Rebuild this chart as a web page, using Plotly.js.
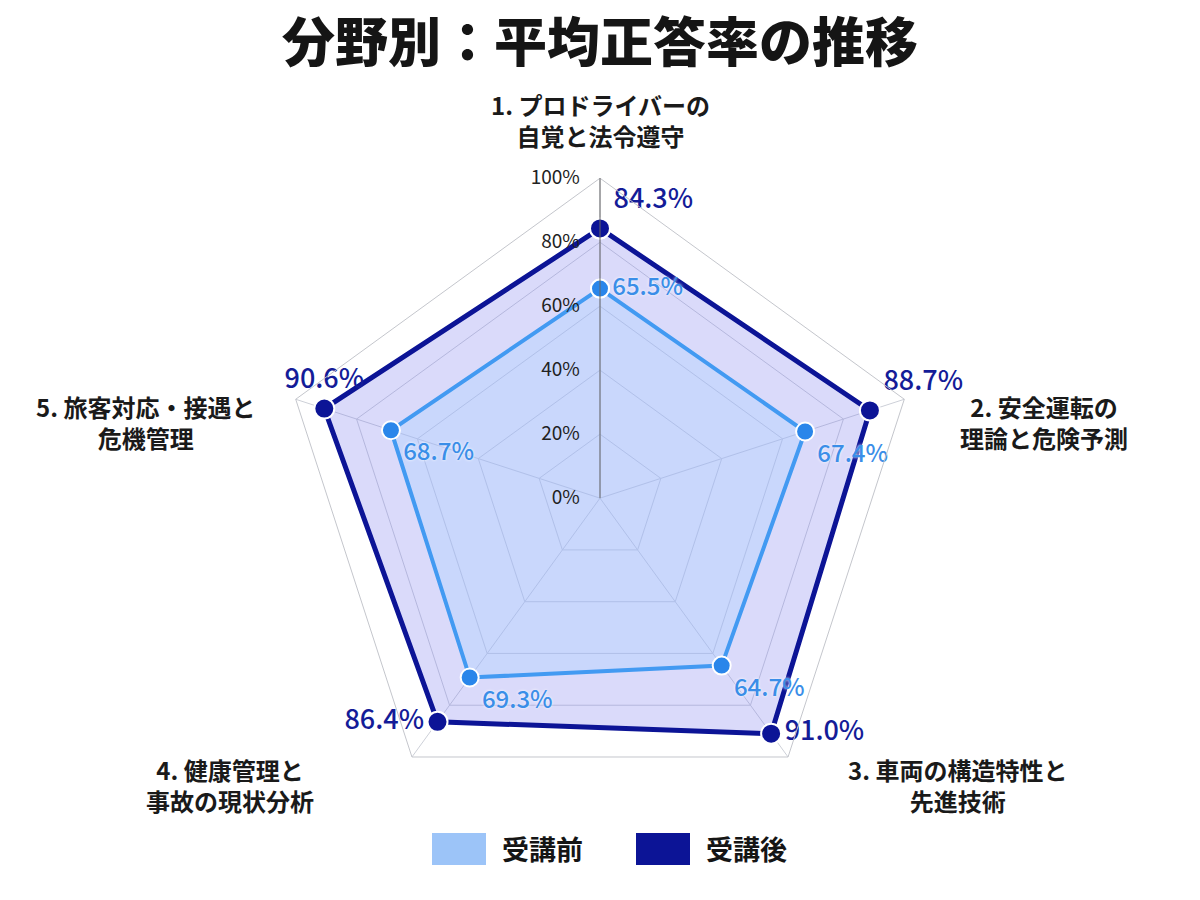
<!DOCTYPE html>
<html>
<head>
<meta charset="utf-8">
<script src="https://cdn.plot.ly/plotly-3.0.1.min.js"></script>
<style>
  html, body { margin: 0; padding: 0; background: #fff; }
  #chart { width: 1200px; height: 900px; }
</style>
</head>
<body>
<div id="chart"></div>
<script>
// 分野（レーダーの軸）
const categories = [
    '1. プロドライバーの<br>自覚と法令遵守',
    '2. 安全運転の<br>理論と危険予測',
    '3. 車両の構造特性と<br>先進技術',
    '4. 健康管理と<br>事故の現状分析',
    '5. 旅客対応・接遇と<br>危機管理'
];
const seriesNames = ['受講前', '受講後'];
const beforeValues = [65.5, 67.4, 64.7, 69.3, 68.7];
const afterValues = [84.3, 88.7, 91.0, 86.4, 90.6];
const radialTicks = [0, 20, 40, 60, 80, 100];

const W = 1200, H = 900;
const FONT = '"Noto Sans CJK JP", "Noto Sans", sans-serif';
const colBefore = '#429af2';
const colBeforeMarker = '#2a86ea';
const colAfter = '#0c1496';
const domX = [0.2333, 0.7667], domY = [0.091, 0.802];

function closeLoop(arr) { return arr.concat([arr[0]]); }
function pct(arr) { return arr.map(v => v.toFixed(1) + '%'); }

const traceAfter = {
    type: 'scatterpolar',
    name: seriesNames[1],
    r: closeLoop(afterValues),
    theta: closeLoop(categories),
    mode: 'lines+markers+text',
    fill: 'toself',
    fillcolor: 'rgba(120,120,235,0.27)',
    line: { color: colAfter, width: 5 },
    marker: { color: colAfter, size: 20, line: { color: '#fff', width: 2 } },
    text: closeLoop(pct(afterValues)).map((t, i) => i === afterValues.length ? '' : t),
    textposition: ['top right', 'top right', 'middle right', 'middle left', 'top center', 'top right'],
    textfont: { family: FONT, size: 27, color: '#141c98', weight: 500 },
    cliponaxis: false,
    showlegend: false,
    hoverinfo: 'skip'
};

const traceBefore = {
    type: 'scatterpolar',
    name: seriesNames[0],
    r: closeLoop(beforeValues),
    theta: closeLoop(categories),
    mode: 'lines+markers+text',
    fill: 'toself',
    fillcolor: 'rgba(170,210,255,0.35)',
    line: { color: colBefore, width: 4 },
    marker: { color: colBeforeMarker, size: 18, line: { color: '#fff', width: 2 } },
    text: closeLoop(pct(beforeValues)).map((t, i) => i === beforeValues.length ? '' : t),
    textposition: ['middle right', 'bottom right', 'bottom right', 'bottom right', 'bottom right', 'middle right'],
    textfont: { family: FONT, size: 24, color: '#3a8ee8', weight: 500, shadow: '0px 0px 3px #ffffff' },
    cliponaxis: false,
    showlegend: false,
    hoverinfo: 'skip'
};

// category labels sit outside the 100% ring; offsets (px) from each ring vertex
const cx = (domX[0] + domX[1]) / 2 * W;
const cy = (1 - (domY[0] + domY[1]) / 2) * H;
const R = (domX[1] - domX[0]) * W / 2;
const labelShift = [[0, -58], [140, 23], [169, 28], [-182, 28], [-150, 23]];
const annotations = categories.map((c, i) => {
    const a = (90 - 360 / categories.length * i) * Math.PI / 180;
    const px = cx + R * Math.cos(a) + labelShift[i][0];
    const py = cy - R * Math.sin(a) + labelShift[i][1];
    return { xref: 'paper', yref: 'paper', x: px / W, y: 1 - py / H, xanchor: 'center', yanchor: 'middle',
        align: 'center', text: c, showarrow: false,
        font: { family: FONT, size: 24, color: '#1a1a1a', weight: 700 } };
});

// legend drawn as big swatches below the radar
const legendColors = ['#9cc4f8', '#0c1496'];
const legendX = [0.36, 0.53];
const shapes = [];
seriesNames.forEach((name, i) => {
    shapes.push({ type: 'rect', xref: 'paper', yref: 'paper', x0: legendX[i], x1: legendX[i] + 0.045,
        y0: 0.039, y1: 0.0744, fillcolor: legendColors[i], line: { width: 0 } });
    annotations.push({ xref: 'paper', yref: 'paper', x: legendX[i] + 0.057, y: 0.057, xanchor: 'left', yanchor: 'middle',
        text: name, showarrow: false, font: { family: FONT, size: 27, color: '#151515', weight: 700 } });
});

const layout = {
    width: W, height: H,
    margin: { l: 0, r: 0, t: 0, b: 0 },
    paper_bgcolor: '#fff',
    showlegend: false,
    title: {
        text: '分野別：平均正答率の推移',
        x: 0.5, xanchor: 'center', y: 0.952, yanchor: 'middle',
        font: { family: FONT, size: 53, color: '#151515', weight: 900 }
    },
    polar: {
        domain: { x: domX, y: domY },
        gridshape: 'linear',
        bgcolor: '#ffffff',
        radialaxis: {
            range: [0, 100],
            tickvals: radialTicks,
            ticktext: radialTicks.map(v => v + '%'),
            angle: 90,
            tickangle: 90,
            side: 'counterclockwise',
            showline: true,
            linecolor: '#666',
            linewidth: 1,
            gridcolor: '#cdd0d8',
            gridwidth: 1,
            ticks: 'outside',
            ticklen: 13,
            tickcolor: 'rgba(0,0,0,0)',
            tickfont: { family: FONT, size: 19, color: '#222' }
        },
        angularaxis: {
            rotation: 90,
            direction: 'clockwise',
            linecolor: '#c4c6cc',
            linewidth: 1,
            gridcolor: '#cdd0d8',
            showticklabels: false,
            ticks: ''
        }
    },
    shapes: shapes,
    annotations: annotations
};

Plotly.newPlot('chart', [traceAfter, traceBefore], layout, { displayModeBar: false });
</script>
</body>
</html>
